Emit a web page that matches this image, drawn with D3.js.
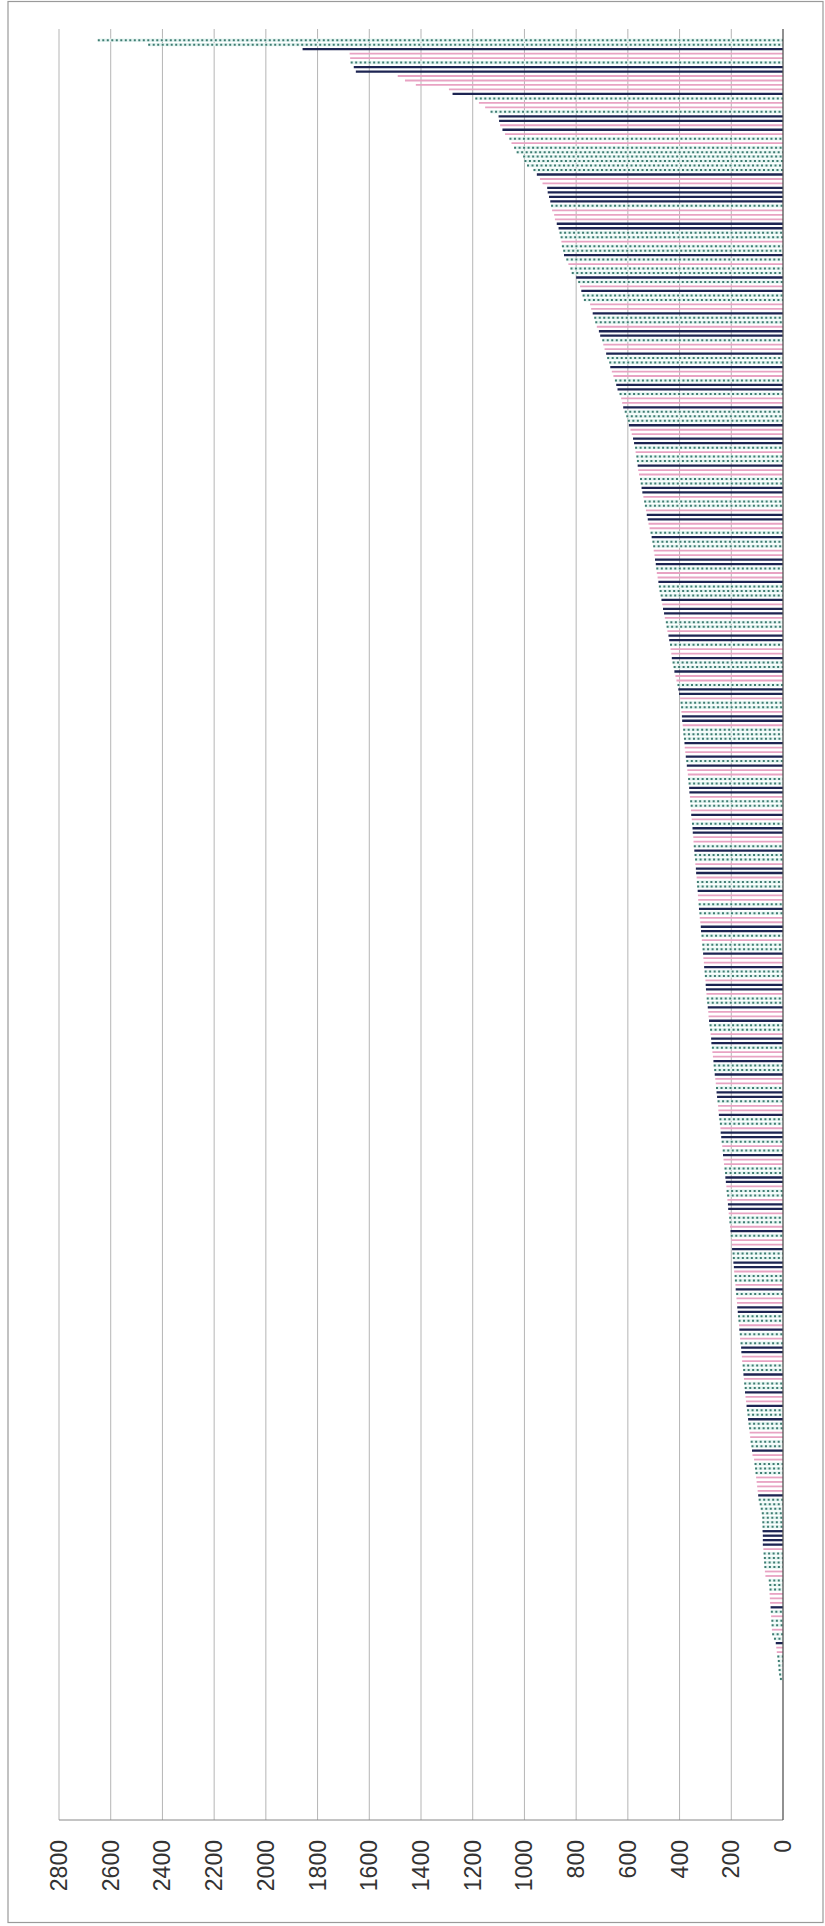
<!DOCTYPE html>
<html>
<head>
<meta charset="utf-8">
<script src="https://cdn.jsdelivr.net/npm/d3@7"></script>
<style>
  body { margin: 0; background: #fff; }
  text { font-family: "Liberation Sans", Arial, sans-serif; }
</style>
</head>
<body>
<script>

// Width and height
var w = 825;
var h = 1926;

// 400 category slots, the first two and the last ones are empty
var categories = d3.range(1, 401);

// values, top bar first
var values = [null, null,
  2650, 2455, 1858, 1676, 1674, 1672, 1660, 1652,
  1490, 1462, 1420, 1292, 1278, 1190, 1176, 1152, 1131, 1100,
  1098, 1094, 1085, 1075, 1058, 1050, 1040, 1030, 1005, 1000,
  990, 965, 952, 940, 930, 912, 910,
  905, 900, 897, 893, 885, 882, 875, 868, 864, 860,
  857, 855, 850, 847, 838, 830, 822, 817, 800, 792,
  785, 780, 775, 770, 746, 742, 736, 730, 726, 720,
  712, 707, 699,
  695, 690, 684, 680, 672, 668, 662, 656, 650, 645, 640, 632, 626,
  622, 618, 612, 606, 600, 596, 590, 585, 580, 576, 572,
  570, 567, 565, 562, 560, 557, 553, 550, 547, 544, 540,
  537, 534, 530, 527, 523, 520, 516, 512, 508, 505, 502, 500,
  497, 495, 492, 490, 488, 485, 482, 480, 477, 473, 470,
  467, 464, 460, 457, 453, 450, 447, 443, 440, 437, 435,
  432, 430, 427, 423, 420, 416, 412, 408, 405, 402, 398,
  396, 394, 393, 391, 390, 388, 386, 385, 383, 381, 380, 378, 376, 374, 372, 370, 368, 367, 365, 363, 362, 360,
  359, 357, 356, 355, 353, 352, 350, 349, 347, 346, 345, 343, 342, 340, 339, 337, 336, 334, 333, 332, 330, 329, 328,
  326, 325, 323, 322, 320, 318, 317, 315, 314, 312, 311, 309, 308, 306, 305, 303, 302, 300, 299, 298, 296, 295,
  293, 291, 289, 288, 286, 284, 282, 280, 278, 277, 275, 273, 271, 269, 268, 266, 264, 262, 260, 259, 257, 255,
  253, 251, 250, 248, 246, 244, 242, 241, 239, 237, 235, 233, 232, 230, 228, 226, 224, 223, 221, 219, 218, 216, 215,
  213, 212, 210, 208, 207, 205, 203, 202, 200, 198, 197, 195, 194, 192, 190, 189, 187, 186, 184, 183, 181, 180,
  178, 177, 175, 174, 172, 170, 169, 167, 166, 164, 162, 161, 159, 158, 156, 154, 153, 151, 150, 148, 147, 145,
  143, 141, 139, 137, 135, 133, 131, 129, 127, 125, 122, 120,
  118, 112, 110, 108, 106, 104, 102, 100, 98, 96, 94,
  90, 86, 82, 80, 80, 79, 79, 78, 78, 78,
  76, 75, 74, 73, 72, 70, 68, 55, 53, 52,
  52, 51, 50, 48, 47, 46, 45, 44, 43, 42,
  35, 28, 26, 24, 22, 20, 18, 17, 15, 12
];

// bar style per value: d = dark solid, p = pink solid, g = green dotted
var styles = ("--" +
  "ggdppgdd" + "ppppdgppgd" + "dpdpgpgggg" + "ggdppdd" +
  "ddgpppddgg" + "pggdgpggdg" + "pdggppdggpddg" +
  "ppdggdppgd" + "dgppdgggdp" + "pddgpggdpp" + "ggddpggpdd" +
  "ppgdggppdd" + "gppdgggdpd" + "dpggpddgpp" + "dggdppgddp" +
  "ggpddpgggd" + "ppdgdppggd" + "dpggpdpgdd" + "ppgdggpddp" +
  "ggdppgdgpp" + "ddgpggdppd" + "ggpddpggdp" + "pdggpddgpp" +
  "dggdppgddg" + "ppdggpddgp" + "gdppggddpg" + "gpddpggpdg" +
  "ppdggddpgg" + "pdgppddggp" + "dgpgddppgg" + "dpggdppdgg" +
  "dggppggdppgggppppdgggggggddddpggggppgggpppdgpggpggdppgggggg").split("");

var color = { d: "#1d2452", p: "#e8a3c3", g: "#3f7c72" };

// tick values of the value axis
var ticks = d3.range(0, 2801, 200);

var svg = d3.select("body")
  .append("svg")
  .attr("width", w)
  .attr("height", h);

// outer frame
svg.append("rect")
  .attr("x", 8).attr("y", 1.5)
  .attr("width", 815).attr("height", 1921)
  .attr("fill", "none")
  .attr("stroke", "#9a9a9a")
  .attr("stroke-width", 1.2);

var plotTop = 29, plotBottom = 1820, plotLeft = 59, plotRight = 783;

var x = d3.scaleLinear().domain([0, 2800]).range([plotRight, plotLeft]);
var y = d3.scaleBand().domain(categories).range([plotTop, plotBottom]);
var bw = y.bandwidth();

// gridlines
svg.append("g").selectAll("line")
  .data(ticks.filter(function (d) { return d > 0; }))
  .enter().append("line")
  .attr("x1", function (d) { return x(d); })
  .attr("x2", function (d) { return x(d); })
  .attr("y1", plotTop).attr("y2", plotBottom)
  .attr("stroke", "#b5b5b5")
  .attr("stroke-width", 1);

// bars
var bars = values.map(function (v, i) {
  return { cat: categories[i], v: v, s: styles[i] };
}).filter(function (d) { return d.v; });

var layer = svg.append("g");

layer.selectAll("rect.bg")
  .data(bars.filter(function (d) { return d.s === "g"; }))
  .enter().append("rect")
  .attr("class", "bg")
  .attr("x", function (d) { return x(d.v); })
  .attr("width", function (d) { return x(0) - x(d.v); })
  .attr("y", function (d) { return y(d.cat) + bw / 2 - 1.6; })
  .attr("height", 3.2)
  .attr("fill", "#e3f4f1");

layer.selectAll("line.bar")
  .data(bars)
  .enter().append("line")
  .attr("class", "bar")
  .attr("x1", function (d) { return x(d.v); })
  .attr("x2", x(0))
  .attr("y1", function (d) { return y(d.cat) + bw / 2; })
  .attr("y2", function (d) { return y(d.cat) + bw / 2; })
  .attr("stroke", function (d) { return color[d.s]; })
  .attr("stroke-width", function (d) { return d.s === "d" ? 2.3 : d.s === "p" ? 1.8 : 2; })
  .attr("stroke-dasharray", function (d) { return d.s === "g" ? "2,2.5" : null; });

// axes lines
svg.append("line")
  .attr("x1", plotLeft).attr("x2", plotRight)
  .attr("y1", plotBottom).attr("y2", plotBottom)
  .attr("stroke", "#8a8a8a").attr("stroke-width", 1.2);

svg.append("line")
  .attr("x1", plotRight).attr("x2", plotRight)
  .attr("y1", plotTop).attr("y2", plotBottom)
  .attr("stroke", "#555").attr("stroke-width", 1.3);

// tick labels, turned to read upwards
svg.append("g").selectAll("text")
  .data(ticks)
  .enter().append("text")
  .attr("transform", function (d) { return "translate(" + (x(d) + 8) + ",1840) rotate(-90)"; })
  .attr("text-anchor", "end")
  .attr("font-size", 23)
  .attr("fill", "#333")
  .text(function (d) { return d; });

</script>
</body>
</html>
